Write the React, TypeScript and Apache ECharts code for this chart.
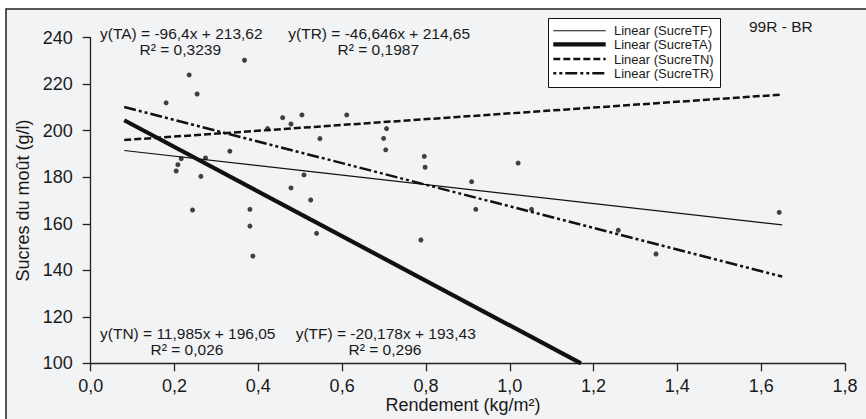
import React, { useEffect, useRef } from "react";
import * as echarts from "echarts";

// Scatter observations (Rendement kg/m², Sucres g/l)
const pointX = [0.180, 0.235, 0.254, 0.367, 0.204, 0.208, 0.216, 0.263, 0.274, 0.332, 0.422, 0.458, 0.478, 0.504, 0.547, 0.478, 0.509, 0.525, 0.611, 0.699, 0.706, 0.704, 0.796, 0.798, 0.243, 0.380, 0.380, 0.387, 0.539, 0.788, 1.020, 0.909, 0.919, 1.052, 1.259, 1.349, 1.643];
const pointY = [212.0, 224.0, 215.8, 230.3, 182.7, 185.4, 188.0, 180.4, 188.3, 191.2, 200.9, 205.6, 202.9, 206.8, 196.6, 175.4, 181.0, 170.2, 206.8, 196.7, 200.9, 191.8, 189.0, 184.3, 165.9, 166.2, 159.0, 146.1, 155.9, 153.0, 186.1, 178.1, 166.2, 166.2, 157.2, 147.0, 164.9];

// Trend line end points
const trendTF = [[0.08, 191.5], [1.65, 159.5]];
const trendTA = [[0.08, 204.5], [1.17, 100.0]];
const trendTN = [[0.08, 196.0], [1.645, 215.5]];
const trendTR = [[0.08, 210.2], [1.65, 137.3]];

const seriesNames = ["Linear (SucreTF)", "Linear (SucreTA)", "Linear (SucreTN)", "Linear (SucreTR)"];

const xTicks = { min: 0, max: 1.8, interval: 0.2 };
const yTicks = { min: 100, max: 240, interval: 20 };

const FONT = "'Liberation Sans', Arial, Helvetica, sans-serif";
const INK = "#1a1a1a";

// line styles shared by the series and the hand-drawn legend
const lineStyles = [
  { width: 1.1, dash: null as number[] | null },
  { width: 4.2, dash: null as number[] | null },
  { width: 2.5, dash: [7, 3] },
  { width: 2.5, dash: [12, 3, 3, 3, 3, 3] },
];

export default function App() {
  const ref = useRef<HTMLDivElement>(null);
  useEffect(() => {
    if (!ref.current) return;
    const chart = echarts.init(ref.current, undefined, { renderer: "svg" });
    const eqStyle = { fontSize: 15.5, fontFamily: FONT, fill: INK };
    const txt = (x: number, y: number, text: string, align: string) => ({
      type: "text",
      x,
      y,
      style: { ...eqStyle, text, textAlign: align, textVerticalAlign: "middle" },
      silent: true,
    });

    const legendRows = [30.7, 44.3, 59.0, 73.3];
    const legendGraphics: any[] = [
      {
        type: "rect",
        shape: { x: 548.5, y: 18.5, width: 172, height: 69 },
        style: { fill: "#ffffff", stroke: "#111", lineWidth: 1 },
        silent: true,
        z: 10,
      },
    ];
    seriesNames.forEach((name, i) => {
      const ls = lineStyles[i];
      legendGraphics.push({
        type: "line",
        shape: { x1: 553.3, y1: legendRows[i], x2: 605.7, y2: legendRows[i] },
        style: { stroke: "#111", lineWidth: ls.width, lineDash: i === 3 ? [3, 3, 3, 3, 12, 3] : ls.dash || undefined },
        silent: true,
        z: 11,
      });
      legendGraphics.push({
        type: "text",
        x: 614,
        y: legendRows[i],
        style: { text: name, fontSize: 13, fontFamily: FONT, fill: INK, textAlign: "left", textVerticalAlign: "middle" },
        silent: true,
        z: 11,
      });
    });

    chart.setOption({
      animation: false,
      backgroundColor: "#ffffff",
      textStyle: { fontFamily: FONT, color: INK },
      grid: { left: 90.7, right: 21, top: 37.7, bottom: 55.7 },
      graphic: [
        {
          type: "rect",
          z: -10,
          shape: { x: 6, y: 9, width: 880, height: 430 },
          style: { fill: "#f2f3f5", stroke: "#222", lineWidth: 1.5 },
          silent: true,
        },
        txt(100, 33.6, "y(TA) = -96,4x + 213,62", "left"),
        txt(180.3, 49.8, "R² = 0,3239", "center"),
        txt(288.3, 33.6, "y(TR) = -46,646x + 214,65", "left"),
        txt(378.3, 49.8, "R² = 0,1987", "center"),
        txt(100, 333.6, "y(TN) = 11,985x + 196,05", "left"),
        txt(187, 349.8, "R² = 0,026", "center"),
        txt(295.7, 333.6, "y(TF) = -20,178x + 193,43", "left"),
        txt(385, 349.8, "R² = 0,296", "center"),
        txt(749, 26, "99R - BR", "left"),
        {
          type: "text",
          x: 463,
          y: 405.4,
          style: { fontSize: 18, fontFamily: FONT, fill: INK, text: "Rendement (kg/m²)", textAlign: "center", textVerticalAlign: "middle" },
          silent: true,
        },
        ...legendGraphics,
      ],
      xAxis: {
        type: "value",
        min: xTicks.min,
        max: xTicks.max,
        interval: xTicks.interval,
        axisLine: { onZero: false, lineStyle: { color: "#222", width: 1.3 } },
        axisTick: { show: true, length: 8, lineStyle: { color: "#222", width: 1.3 } },
        axisLabel: {
          fontSize: 18,
          fontFamily: FONT,
          color: INK,
          margin: 14,
          formatter: (v: number) => v.toFixed(1).replace(".", ","),
        },
        splitLine: { show: false },
      },
      yAxis: {
        type: "value",
        min: yTicks.min,
        max: yTicks.max,
        interval: yTicks.interval,
        name: "Sucres du moût (g/l)",
        nameLocation: "middle",
        nameGap: 55,
        nameRotate: 90,
        nameTextStyle: { fontSize: 18, fontFamily: FONT, color: INK },
        axisLine: { show: true, onZero: false, lineStyle: { color: "#222", width: 1.3 } },
        axisTick: { show: true, length: 8, lineStyle: { color: "#222", width: 1.3 } },
        axisLabel: { fontSize: 18, fontFamily: FONT, color: INK, margin: 18 },
        splitLine: { show: false },
      },
      series: [
        { data: trendTF, idx: 0 },
        { data: trendTA, idx: 1 },
        { data: trendTN, idx: 2 },
        { data: trendTR, idx: 3 },
      ].map((s) => ({
        name: seriesNames[s.idx],
        type: "line",
        data: s.data,
        symbol: "none",
        color: "#111",
        lineStyle: {
          color: "#111",
          width: lineStyles[s.idx].width,
          type: lineStyles[s.idx].dash || "solid",
        },
        z: 3,
      })).concat([
        {
          name: "points",
          type: "scatter",
          data: pointX.map((x, i) => [x, pointY[i]]),
          symbol: "circle",
          symbolSize: 5,
          itemStyle: { color: "#111" },
          z: 5,
        } as any,
      ]),
    });
    return () => chart.dispose();
  }, []);
  return (
    <div
      ref={ref}
      style={{ position: "fixed", left: 0, top: 0, width: 866, height: 419 }}
    />
  );
}
